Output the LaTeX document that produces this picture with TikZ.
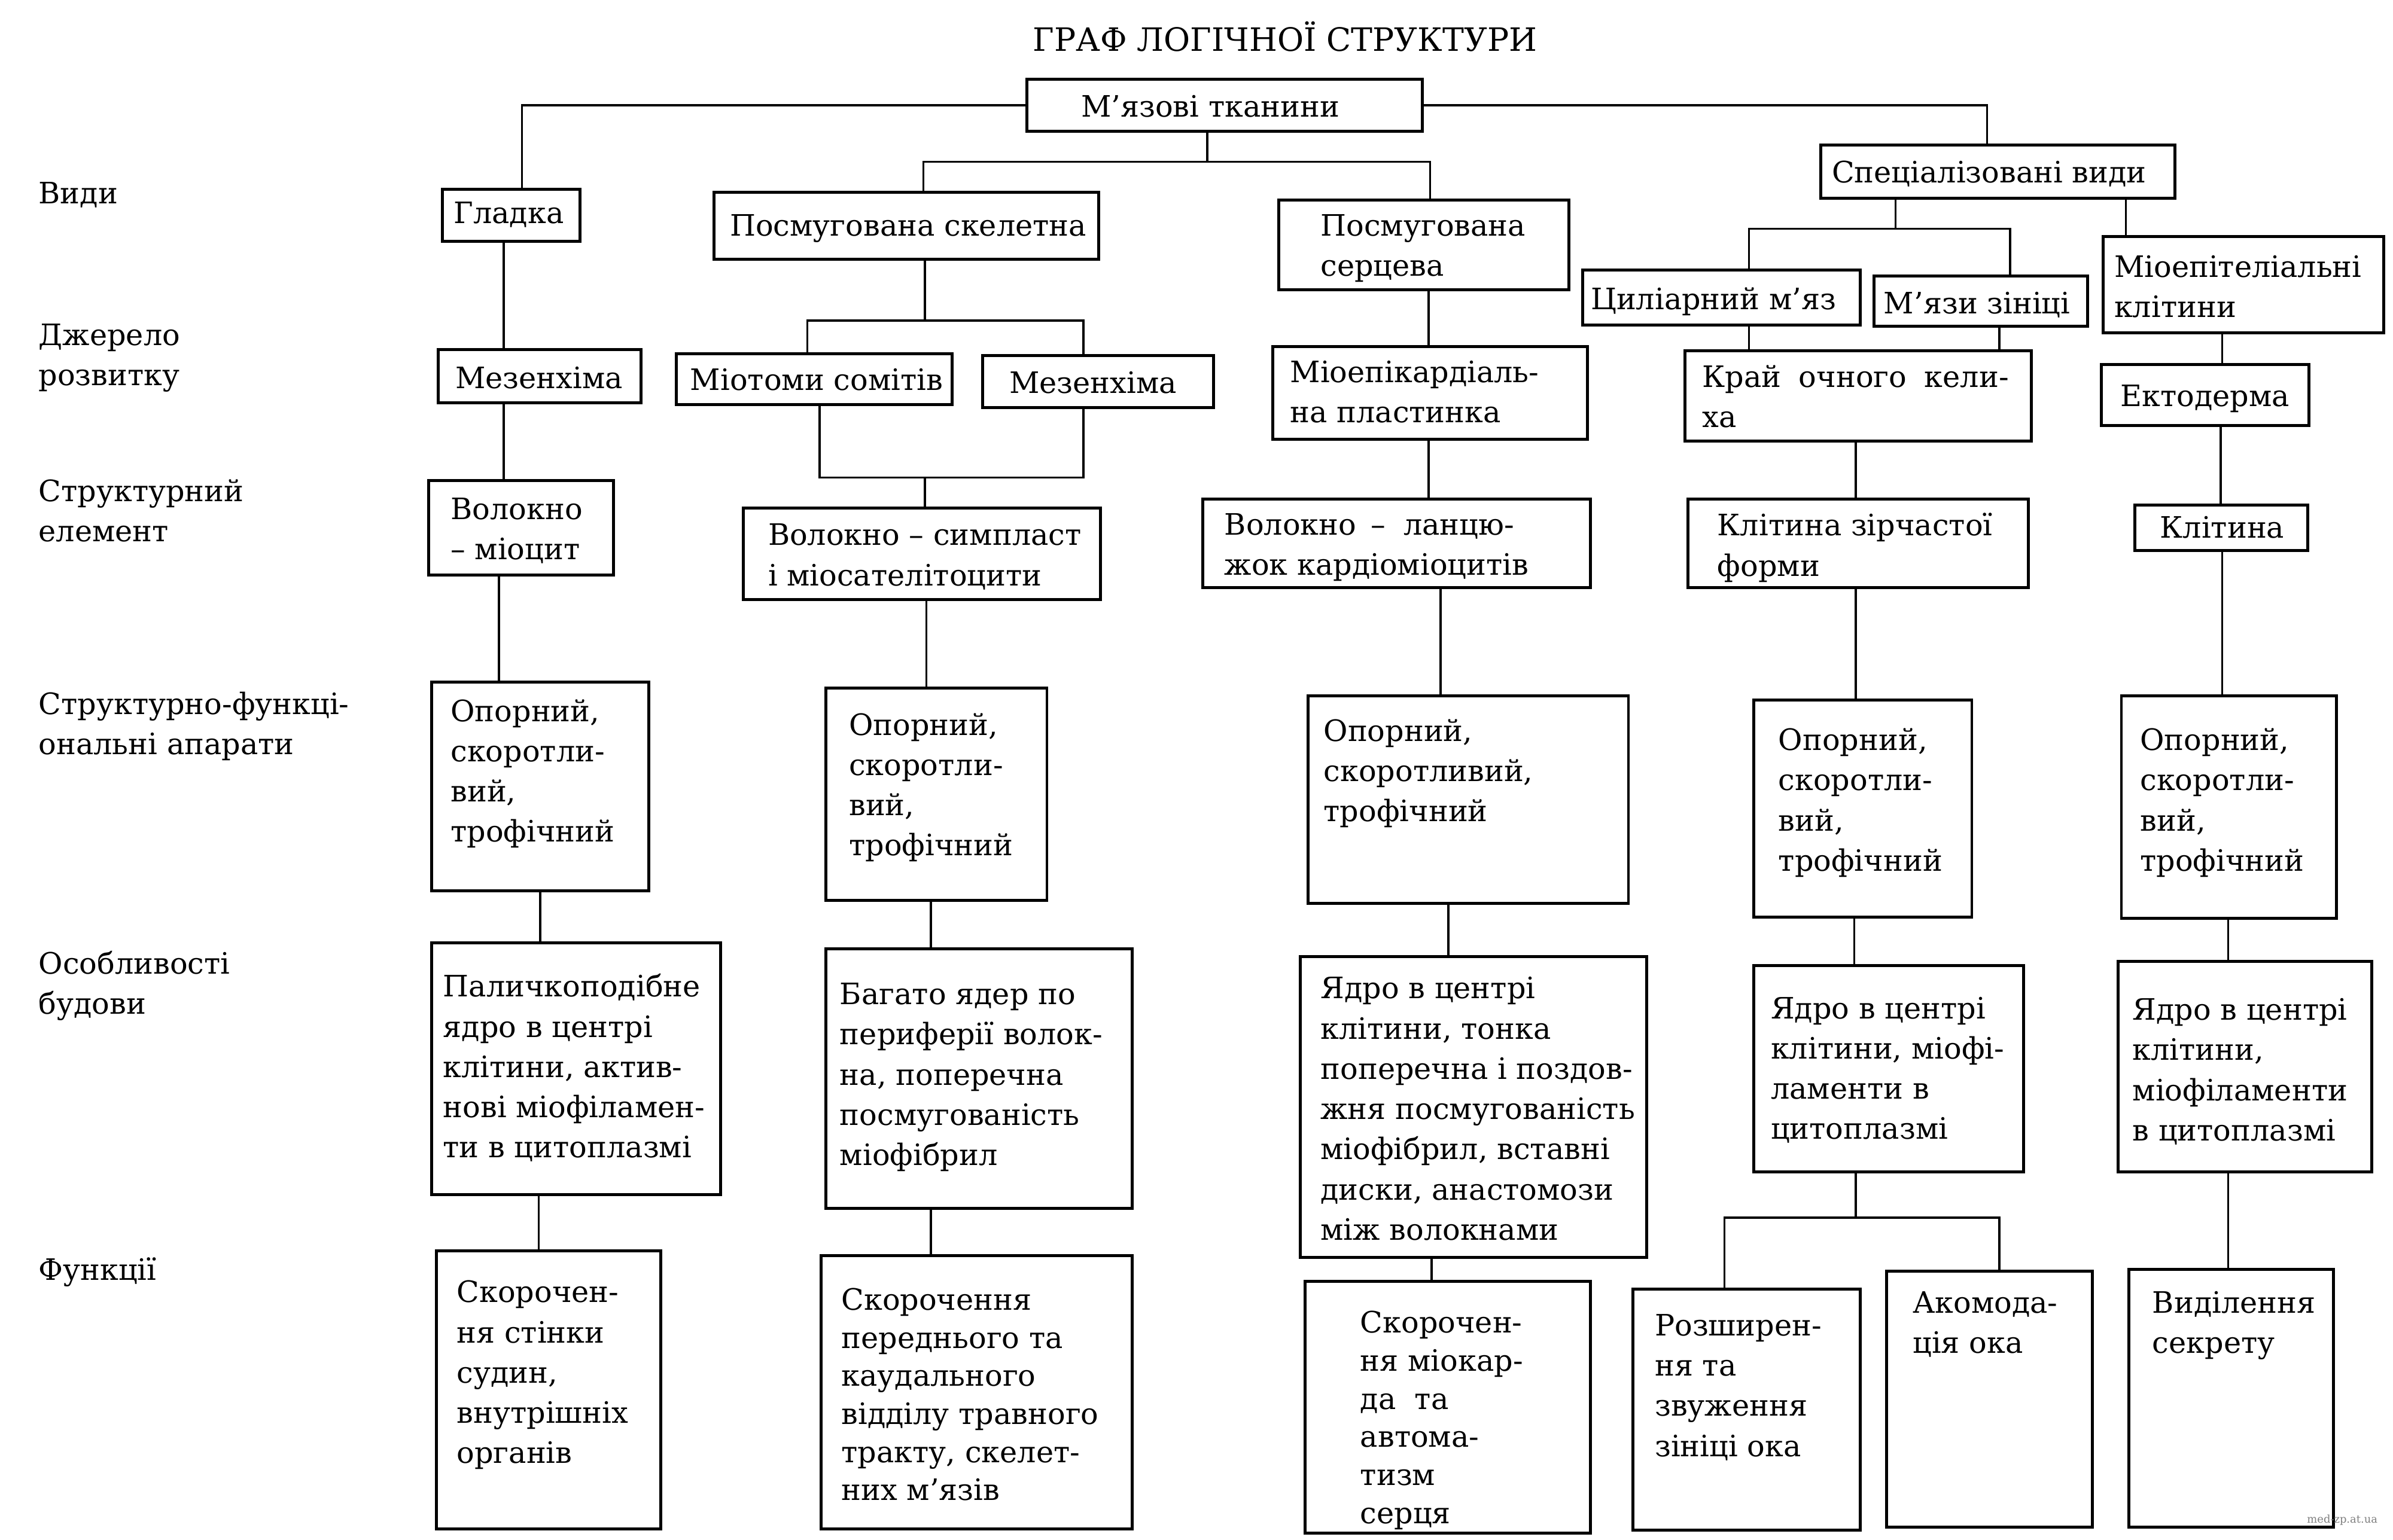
\documentclass[tikz,border=0pt]{standalone}
\usepackage{fontspec}
\setmainfont{DejaVu Serif}

% box from (left,top) to (right,bottom), text starting at (tx,ty)
\newcommand{\cell}[8][]{%
  \node[box, minimum width={(#5-#3)*0.02cm}, minimum height={(#6-#4)*0.02cm}] (#2) at ({(#3+#5)/2},{(#4+#6)/2}) {};
  \node[txt,#1] (#2-t) at (#7,{#8-7}) {\celltext};}

\begin{document}
\begin{tikzpicture}[x=0.02cm, y=-0.02cm]
\tikzstyle{box}=[draw, line width=1.1pt, inner sep=0pt, fill=white]
\tikzstyle{txt}=[anchor=north west, align=left, inner sep=0pt, font=\fontsize{11}{15}\selectfont]
\tikzstyle{tight}=[font=\fontsize{11}{14.2}\selectfont]
\tikzstyle{link}=[line width=0.8pt]

\useasboundingbox[fill=white] (0,0) rectangle (1568,1009);

\node[font=\fontsize{12}{14}\selectfont] (title) at (842,24) {ГРАФ ЛОГІЧНОЇ СТРУКТУРИ};

\node[txt] (lvyd) at (25,119) {Види};
\node[txt] (ldzh) at (25,212) {Джерело\\розвитку};
\node[txt] (lel)  at (25,314) {Структурний\\елемент};
\node[txt] (lap)  at (25,453) {Структурно-функці-\\ональні апарати};
\node[txt] (lbud) at (25,623) {Особливості\\будови};
\node[txt] (lfun) at (25,824) {Функції};

\def\celltext{М’язові тканини}\cell{root}{673}{52}{932}{86}{708}{69}
\def\celltext{Гладка}\cell{gladka}{290}{124}{380}{158}{297}{139}
\def\celltext{Посмугована скелетна}\cell{skel}{468}{126}{720}{170}{478}{147}
\def\celltext{Посмугована\\серцева}\cell{serc}{838}{131}{1028}{190}{865}{147}
\def\celltext{Спеціалізовані види}\cell{spec}{1193}{95}{1425}{130}{1200}{112}
\def\celltext{Циліарний м’яз}\cell{cil}{1037}{177}{1219}{213}{1042}{195}
\def\celltext{М’язи зініці}\cell{zin}{1228}{181}{1368}{214}{1234}{198}
\def\celltext{Міоепітеліальні\\клітини}\cell{epit}{1378}{155}{1562}{218}{1385}{174}

\def\celltext{Мезенхіма}\cell{mez1}{287}{229}{420}{264}{298}{247}
\def\celltext{Міотоми сомітів}\cell{miot}{443}{232}{624}{265}{452}{248}
\def\celltext{Мезенхіма}\cell{mez2}{644}{233}{795}{267}{661}{250}
\def\celltext{Міоепікардіаль-\\на пластинка}\cell{epik}{834}{227}{1040}{288}{845}{243}
\def\celltext{Край\hspace{0.6em}очного\hspace{0.6em}кели-\\ха}\cell{kraj}{1104}{230}{1331}{289}{1115}{246}
\def\celltext{Ектодерма}\cell{ekto}{1377}{239}{1513}{279}{1389}{259}

\def\celltext{Волокно\\– міоцит}\cell{mioc}{281}{315}{402}{377}{295}{333}
\def\celltext{Волокно – симпласт\\і міосателітоцити}\cell{simp}{487}{333}{721}{393}{503}{350}
\def\celltext{Волокно\hspace{0.5em}–\hspace{0.6em}ланцю-\\жок кардіоміоцитів}\cell{lanc}{788}{327}{1042}{385}{802}{343}
\def\celltext{Клітина зірчастої\\форми}\cell{zirch}{1106}{327}{1329}{385}{1125}{343}
\def\celltext{Клітина}\cell{klit}{1399}{331}{1512}{361}{1415}{345}

\def\celltext{Опорний,\\скоротли-\\вий,\\трофічний}
\cell{op1}{283}{447}{425}{584}{295}{465}
\cell{op2}{541}{451}{686}{590}{556}{474}
\cell{op4}{1149}{459}{1292}{601}{1165}{484}
\cell{op5}{1390}{456}{1531}{602}{1402}{484}
\def\celltext{Опорний,\\скоротливий,\\трофічний}\cell{op3}{857}{456}{1067}{592}{867}{478}

\def\celltext{Паличкоподібне\\ядро в центрі\\клітини, актив-\\нові міофіламен-\\ти в цитоплазмі}\cell{pal}{283}{618}{472}{783}{290}{645}
\def\celltext{Багато ядер по\\периферії волок-\\на, поперечна\\посмугованість\\міофібрил}\cell{bag}{541}{622}{742}{792}{550}{651}
\def\celltext{Ядро в центрі\\клітини, тонка\\поперечна і поздов-\\жня посмугованість\\міофібрил, вставні\\диски, анастомози\\між волокнами}\cell{yad3}{852}{627}{1079}{824}{865}{647}
\def\celltext{Ядро в центрі\\клітини, міофі-\\ламенти в\\цитоплазмі}\cell{yad4}{1149}{633}{1326}{768}{1160}{660}
\def\celltext{Ядро в центрі\\клітини,\\міофіламенти\\в цитоплазмі}\cell{yad5}{1388}{630}{1554}{768}{1397}{661}

\def\celltext{Скорочен-\\ня стінки\\судин,\\внутрішніх\\органів}\cell{sk1}{286}{820}{433}{1002}{299}{846}
\def\celltext{Скорочення\\переднього та\\каудального\\відділу травного\\тракту, скелет-\\них м’язів}\cell[tight]{sk2}{538}{823}{742}{1002}{551}{851}
\def\celltext{Скорочен-\\ня міокар-\\да\ \ та\\автома-\\тизм\\серця}\cell[tight]{sk3}{855}{840}{1042}{1005}{891}{866}
\def\celltext{Розширен-\\ня та\\звуження\\зініці ока}\cell{roz}{1070}{845}{1219}{1003}{1084}{868}
\def\celltext{Акомода-\\ція ока}\cell{akom}{1236}{833}{1371}{1001}{1253}{853}
\def\celltext{Виділення\\секрету}\cell{vyd}{1395}{832}{1529}{1001}{1410}{853}

\coordinate (j1) at (791,106);
\coordinate (j2) at (606,210);
\coordinate (j3) at (606,313);
\coordinate (j4) at (1242,150);
\coordinate (j5) at (1216,798);

\draw[link] (root.west) -| (gladka.north -| 342,0);
\draw[link] (root.east) -| (spec.north -| 1302,0);
\draw[link] (root.south -| j1) -- (j1);
\draw[link] (skel.north -| 605,0) |- (j1) -| (serc.north -| 937,0);
\draw[link] (skel.south -| j2) -- (j2);
\draw[link] (miot.north -| 529,0) |- (j2) -| (mez2.north -| 710,0);
\draw[link] (miot.south -| 537,0) |- (j3) -| (mez2.south -| 710,0);
\draw[link] (j3) -- (simp.north -| j3);
\draw[link] (spec.south -| j4) -- (j4);
\draw[link] (cil.north -| 1146,0) |- (j4) -| (zin.north -| 1317,0);
\draw[link] (yad4.south -| j5) -- (j5);
\draw[link] (roz.north -| 1130,0) |- (j5) -| (akom.north -| 1310,0);

\foreach \a/\b/\x in {gladka/mez1/330, mez1/mioc/330, serc/epik/936, spec/epit/1393,
    cil/kraj/1146, zin/kraj/1310, epit/ekto/1456, epik/lanc/936, kraj/zirch/1216,
    ekto/klit/1455, mioc/op1/327, simp/op2/607, lanc/op3/944, zirch/op4/1216,
    klit/op5/1456, op1/pal/354, op2/bag/610, op3/yad3/949, op4/yad4/1215,
    op5/yad5/1460, pal/sk1/353, bag/sk2/610, yad3/sk3/938, yad5/vyd/1460}
  \draw[link] (\a.south -| \x,0) -- (\b.north -| \x,0);

\node[font=\fontsize{4}{5}\selectfont, gray, anchor=south east] (site) at (1564,1006) {med-zp.at.ua};
\end{tikzpicture}
\end{document}
